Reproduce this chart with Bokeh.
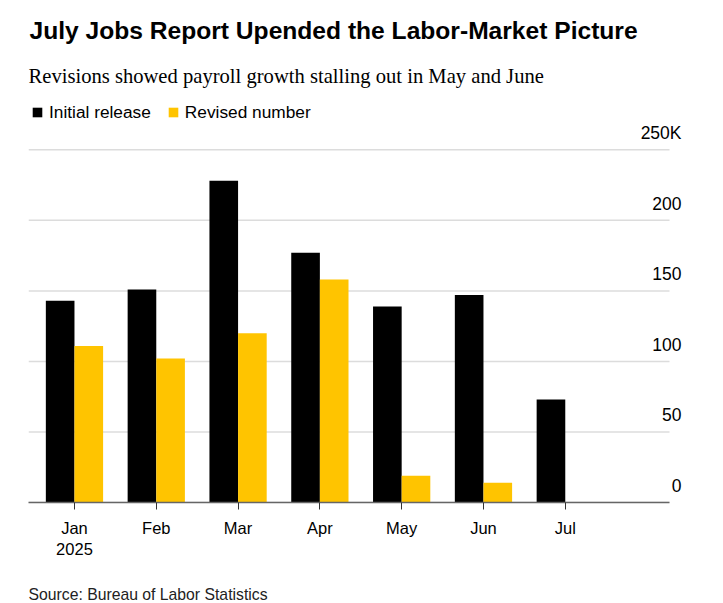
import numpy as np
from bokeh.plotting import figure
from bokeh.models import (Range1d, FixedTicker, Label, LabelSet, ColumnDataSource,
                          Legend, LegendItem, Title)
from bokeh.core.properties import value
from bokeh.embed import file_html
from bokeh.resources import INLINE

# ---- data (thousands of jobs) ----
months = ["Jan", "Feb", "Mar", "Apr", "May", "Jun", "Jul"]
month_labels = ["Jan\n2025", "Feb", "Mar", "Apr", "May", "Jun", "Jul"]
initial_release = [143, 151, 228, 177, 139, 147, 73]
revised_number = [111, 102, 120, 158, 19, 14]
y_ticks = [0, 50, 100, 150, 200, 250]
y_tick_labels = ["0", "50", "100", "150", "200", "250K"]

title_text = "July Jobs Report Upended the Labor-Market Picture"
subtitle_text = "Revisions showed payroll growth stalling out in May and June"
source_text = "Source: Bureau of Labor Statistics"

BLACK = "#000000"
YELLOW = "#FFC400"
SANS = "Liberation Sans"
SERIF = "Liberation Serif"

px_per_cat = 81.8
x_start = -0.562
x_grid_end = x_start + 641 / px_per_cat      # where gridlines / axis stop
x_end = x_start + 655 / px_per_cat           # frame edge (room for tick labels)
y_end = 502 / 1.4108

p = figure(width=723, height=603, output_backend="svg", toolbar_location=None,
           x_range=Range1d(x_start, x_end), y_range=Range1d(0, y_end),
           y_axis_location=None, min_border_left=28, min_border_right=40,
           min_border_top=0, min_border_bottom=101)
p.outline_line_color = None
p.background_fill_color = "white"
p.border_fill_color = "white"
p.xgrid.visible = False
p.ygrid.visible = False

# horizontal gridlines at the y ticks
p.segment(x0=x_start, x1=x_grid_end, y0=y_ticks, y1=y_ticks,
          line_color="#dcdcdc", line_width=1.5)

idx = np.arange(len(months))
bw = 0.35
r1 = p.vbar(x=idx - bw / 2, top=initial_release, width=bw, bottom=0,
            fill_color=BLACK, line_color=None)
r2 = p.vbar(x=idx[:len(revised_number)] + bw / 2, top=revised_number, width=bw, bottom=0,
            fill_color=YELLOW, line_color=None)

# x axis
ax = p.xaxis[0]
ax.ticker = FixedTicker(ticks=list(idx))
ax.bounds = (x_start, x_grid_end)
ax.major_label_overrides = {int(i): lab for i, lab in zip(idx, month_labels)}
ax.axis_line_color = "#666666"
ax.axis_line_width = 1.5
ax.major_tick_line_color = "#333333"
ax.major_tick_in = 0
ax.major_tick_out = 7
ax.minor_tick_line_color = None
ax.major_label_text_font = SANS
ax.major_label_text_font_size = "16.5px"
ax.major_label_text_color = "#000000"
ax.major_label_standoff = 9
# blank axis label used only as vertical spacing before the source line
ax.axis_label = " "
ax.axis_label_text_font_size = "10px"
ax.axis_label_standoff = 7

# y tick labels placed above the gridlines, right-aligned
ysrc = ColumnDataSource(dict(x=[x_grid_end] * len(y_ticks), y=y_ticks, text=y_tick_labels))
p.add_layout(LabelSet(x="x", y="y", text="text", source=ysrc, x_offset=12, y_offset=10.5,
                      text_align="right", text_baseline="alphabetic",
                      text_font=value(SANS), text_font_size=value("17.5px"),
                      text_color="#000000"))

# legend
legend = Legend(items=[LegendItem(label="Initial release", renderers=[r1]),
                       LegendItem(label="Revised number", renderers=[r2])],
                orientation="horizontal", location=(3, 379.5),
                glyph_width=12, glyph_height=12, label_standoff=6, spacing=16,
                padding=0, margin=0, border_line_color=None, background_fill_alpha=0,
                label_text_font=SANS, label_text_font_size="17.3px", label_text_color="#000000",
                label_height=20)
p.add_layout(legend, "center")

# title and subtitle (screen units relative to the frame's bottom-left)
p.add_layout(Label(x=1, y=472, x_units="screen", y_units="screen", text=title_text,
                   text_font=SANS, text_font_size="24.6px", text_font_style="bold",
                   text_color="#000000", text_baseline="alphabetic"))
p.add_layout(Label(x=0, y=427, x_units="screen", y_units="screen", text=subtitle_text,
                   text_font=SERIF, text_font_size="20.6px",
                   text_color="#000000", text_baseline="alphabetic"))

# source line below the axis
p.add_layout(Title(text=source_text, align="left", text_font=SANS, text_font_size="15.75px",
                   text_font_style="normal", text_color="#222222", standoff=2), "below")

open("out.html", "w").write(file_html(p, INLINE))
